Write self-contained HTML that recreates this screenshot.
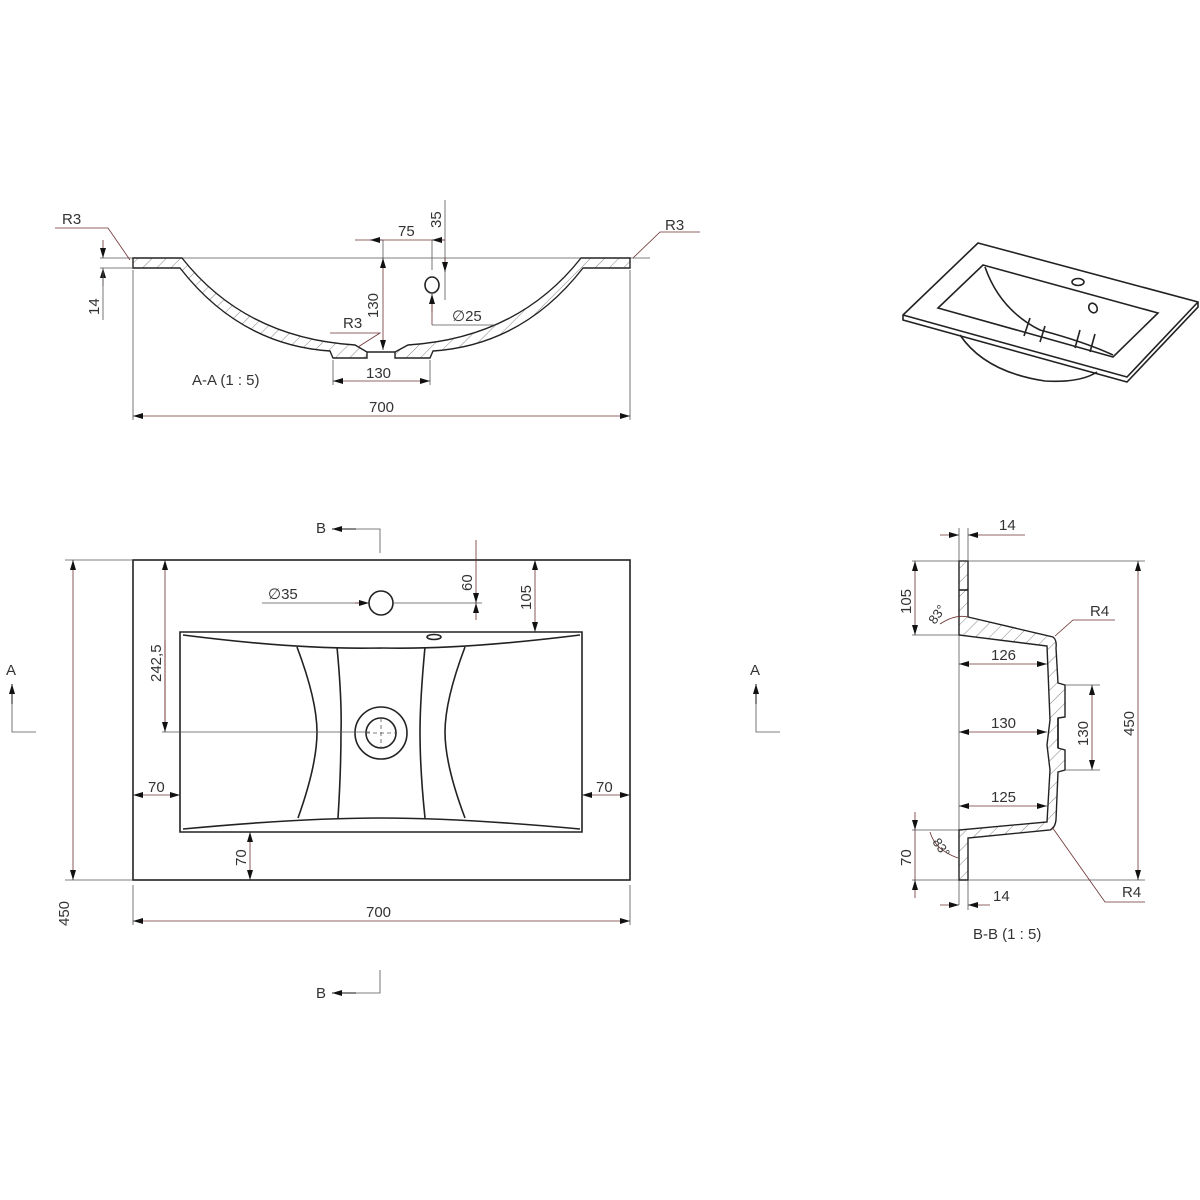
<!DOCTYPE html>
<html><head><meta charset="utf-8"><style>
html,body{margin:0;padding:0;background:#fff;width:1200px;height:1200px;overflow:hidden}
svg{display:block}
text{font-family:"Liberation Sans",sans-serif;font-size:15px;fill:#333}
.o{fill:none;stroke:#222;stroke-width:1.6}
.t{fill:none;stroke:#555;stroke-width:0.8}
.d{fill:none;stroke:#6b3030;stroke-width:0.8}
</style></head><body>
<svg width="1200" height="1200" viewBox="0 0 1200 1200" xmlns="http://www.w3.org/2000/svg">
<defs>
<marker id="a" viewBox="0 0 10 6" refX="10" refY="3" markerWidth="10" markerHeight="6" orient="auto-start-reverse" markerUnits="userSpaceOnUse"><path d="M0,0 L10,3 L0,6z" fill="#111"/></marker>
<pattern id="hp" width="10" height="10" patternUnits="userSpaceOnUse" patternTransform="rotate(45)"><line x1="0" y1="0" x2="0" y2="10" stroke="#666" stroke-width="0.8"/></pattern>
</defs>

<!-- ===== Section A-A ===== -->
<line class="t" x1="100" y1="258" x2="650" y2="258"/>
<path d="M133,258 L182,258 Q245,338 355,345 L367,352 L367,358 L333,358 L330,351 Q240,345 180,268 L133,268 Z" fill="url(#hp)" stroke="#222" stroke-width="1.4"/>
<path d="M630,258 L581,258 Q518,338 408,345 L395,352 L395,358 L430,358 L433,351 Q523,345 583,268 L630,268 Z" fill="url(#hp)" stroke="#222" stroke-width="1.4"/>
<line class="o" x1="367" y1="352" x2="395" y2="352" stroke-width="1.2"/>
<ellipse cx="432" cy="285" rx="7" ry="8" class="o"/>
<!-- dims A-A -->
<line class="t" x1="133" y1="270" x2="133" y2="420"/>
<line class="t" x1="630" y1="270" x2="630" y2="420"/>
<line class="d" x1="133" y1="416" x2="630" y2="416" marker-start="url(#a)" marker-end="url(#a)"/>
<text x="369" y="412">700</text>
<line class="t" x1="333" y1="360" x2="333" y2="385"/>
<line class="t" x1="430" y1="360" x2="430" y2="385"/>
<line class="d" x1="333" y1="381" x2="430" y2="381" marker-start="url(#a)" marker-end="url(#a)"/>
<text x="366" y="378">130</text>
<text x="192" y="385">A-A  (1 : 5)</text>
<line class="d" x1="383" y1="258" x2="383" y2="350" marker-start="url(#a)" marker-end="url(#a)"/>
<line class="t" x1="383" y1="240" x2="383" y2="258"/>
<text transform="translate(378,318) rotate(-90)">130</text>
<line class="d" x1="355" y1="240" x2="445" y2="240"/>
<line class="d" x1="383" y1="240" x2="370" y2="240" marker-end="url(#a)"/>
<line class="d" x1="432" y1="240" x2="445" y2="240" marker-start="url(#a)"/>
<text x="398" y="236">75</text>
<line class="t" x1="432" y1="240" x2="432" y2="270"/>
<line class="t" x1="445" y1="200" x2="445" y2="300"/>
<text transform="translate(441,228) rotate(-90)">35</text>
<line class="d" x1="445" y1="258" x2="445" y2="272" marker-end="url(#a)"/>
<line class="d" x1="432" y1="300" x2="432" y2="325"/>
<line class="d" x1="432" y1="312" x2="432" y2="294" marker-end="url(#a)"/>
<line class="t" x1="432" y1="325" x2="495" y2="325"/>
<text x="452" y="321">∅25</text>
<line class="d" x1="103" y1="240" x2="103" y2="258" marker-end="url(#a)"/>
<line class="d" x1="103" y1="286" x2="103" y2="268" marker-end="url(#a)"/>
<line class="t" x1="100" y1="268" x2="133" y2="268"/>
<line class="t" x1="103" y1="268" x2="103" y2="320"/>
<text transform="translate(99,315) rotate(-90)">14</text>
<path class="d" d="M55,228 L108,228 L130,260"/>
<text x="62" y="224">R3</text>
<path class="d" d="M700,232 L660,232 L633,258"/>
<text x="665" y="230">R3</text>
<path class="d" d="M330,333 L380,333 L358,347"/>
<text x="343" y="328">R3</text>

<!-- ===== Isometric ===== -->
<path class="o" d="M978,243 L1198,302 L1198,307 L1127,382 L903,320 L903,315 Z" fill="#fff" stroke-width="1.4"/>
<path class="o" d="M903,315 L1127,377 L1198,302" stroke-width="1.2"/>
<path class="o" d="M983,265 L1158,313 L1113,357 L938,308 Z" stroke-width="1.4"/>
<path class="o" d="M985,267 Q1000,310 1040,330 Q1085,342 1113,355" stroke-width="1.1"/>
<path class="o" d="M960,335 Q985,372 1045,381 Q1080,383 1097,372" stroke-width="1.3"/>
<path class="o" d="M1030,318 L1024,336 M1045,326 L1040,342 M1080,330 L1075,348 M1095,334 L1090,352" stroke-width="1"/>
<ellipse cx="1078" cy="282" rx="6" ry="3.5" class="o" stroke-width="1.2"/>
<ellipse cx="1093" cy="308" rx="4" ry="5" class="o" transform="rotate(-30 1093 308)" stroke-width="1.2"/>

<!-- ===== Plan view ===== -->
<rect x="133" y="560" width="497" height="320" class="o" stroke-width="1.8"/>
<path class="o" d="M180,632 L582,632 L582,832 L180,832 Z" stroke-width="1.6"/>
<path class="o" d="M183,635 Q300,650 381,648 Q460,650 580,635" stroke-width="1.2"/>
<path class="o" d="M183,829 Q300,818 381,818 Q460,818 580,829" stroke-width="1.2"/>
<path class="o" d="M297,647 Q317,700 317,732 Q317,765 298,818" stroke-width="1.2"/>
<path class="o" d="M337,647 Q342,700 341,732 Q341,770 338,818" stroke-width="1.2"/>
<path class="o" d="M425,647 Q420,700 420,732 Q420,770 425,818" stroke-width="1.2"/>
<path class="o" d="M465,647 Q445,700 445,732 Q445,765 465,818" stroke-width="1.2"/>
<ellipse cx="434" cy="637" rx="7" ry="2.5" class="o" stroke-width="1"/>
<circle cx="381" cy="603" r="12" class="o" stroke-width="1.4"/>
<circle cx="381" cy="733" r="26" class="o" stroke-width="2.2"/>
<circle cx="381" cy="733" r="15" class="o" stroke-width="1.3"/>
<path class="t" d="M381,718 L381,748 M366,733 L396,733" stroke-dasharray="4,3"/>
<!-- plan dims -->
<line class="t" x1="162" y1="732" x2="370" y2="732"/>
<line class="d" x1="165" y1="732" x2="165" y2="560" marker-end="url(#a)"/>
<line class="d" x1="165" y1="640" x2="165" y2="732" marker-end="url(#a)"/>
<text transform="translate(161,682) rotate(-90)">242,5</text>
<line class="t" x1="262" y1="603" x2="369" y2="603"/>
<line class="d" x1="355" y1="603" x2="369" y2="603" marker-end="url(#a)"/>
<text x="268" y="599">∅35</text>
<line class="t" x1="393" y1="603" x2="482" y2="603"/>
<line class="d" x1="476" y1="540" x2="476" y2="603" marker-end="url(#a)"/>
<line class="d" x1="476" y1="620" x2="476" y2="603" marker-end="url(#a)"/>
<text transform="translate(472,591) rotate(-90)">60</text>
<line class="d" x1="535" y1="560" x2="535" y2="632" marker-start="url(#a)" marker-end="url(#a)"/>
<text transform="translate(531,610) rotate(-90)">105</text>
<line class="d" x1="133" y1="795" x2="180" y2="795" marker-start="url(#a)" marker-end="url(#a)"/>
<text x="148" y="792">70</text>
<line class="d" x1="582" y1="795" x2="630" y2="795" marker-start="url(#a)" marker-end="url(#a)"/>
<text x="596" y="792">70</text>
<line class="d" x1="250" y1="832" x2="250" y2="880" marker-start="url(#a)" marker-end="url(#a)"/>
<text transform="translate(246,866) rotate(-90)">70</text>
<line class="t" x1="65" y1="560" x2="133" y2="560"/>
<line class="t" x1="65" y1="880" x2="133" y2="880"/>
<line class="d" x1="73" y1="560" x2="73" y2="880" marker-start="url(#a)" marker-end="url(#a)"/>
<text transform="translate(69,926) rotate(-90)">450</text>
<line class="t" x1="133" y1="885" x2="133" y2="925"/>
<line class="t" x1="630" y1="885" x2="630" y2="925"/>
<line class="d" x1="133" y1="921" x2="630" y2="921" marker-start="url(#a)" marker-end="url(#a)"/>
<text x="366" y="917">700</text>
<!-- section markers -->
<text x="316" y="533">B</text>
<path d="M332,529 L356,529" stroke="#111" stroke-width="1" marker-start="url(#a)"/>
<path class="t" d="M356,529 L380,529 L380,553"/>
<text x="316" y="998">B</text>
<path d="M332,993 L356,993" stroke="#111" stroke-width="1" marker-start="url(#a)"/>
<path class="t" d="M356,993 L380,993 L380,970"/>
<text x="6" y="675">A</text>
<path d="M12,684 L12,704" stroke="#111" stroke-width="1" marker-start="url(#a)"/>
<path class="t" d="M12,704 L12,732 L36,732"/>
<text x="750" y="675">A</text>
<path d="M756,684 L756,704" stroke="#111" stroke-width="1" marker-start="url(#a)"/>
<path class="t" d="M756,704 L756,732 L780,732"/>

<!-- ===== Section B-B ===== -->
<line class="t" x1="959" y1="528" x2="959" y2="905"/>
<path d="M959,561 L968,561 L968,617 L1053,637 Q1057,640 1056,648 L1058,683 L1065,685 L1065,717 L1058,718 L1058,748 L1065,750 L1065,770 L1058,772 L1056,820 Q1055,828 1050,830 L968,838 L968,880 L959,880 L959,830 L1047,822 L1050,770 L1047,745 L1050,720 L1047,646 L959,635 Z" fill="url(#hp)" stroke="#222" stroke-width="1.4"/>
<line class="o" x1="1058" y1="718" x2="1058" y2="748" stroke-width="1.2"/>
<line class="o" x1="959" y1="590" x2="968" y2="590" stroke-width="1"/>
<!-- dims B-B -->
<line class="t" x1="968" y1="528" x2="968" y2="561"/>
<line class="d" x1="940" y1="535" x2="959" y2="535" marker-end="url(#a)"/>
<line class="d" x1="990" y1="535" x2="968" y2="535" marker-end="url(#a)"/>
<line class="d" x1="990" y1="535" x2="1025" y2="535"/>
<text x="999" y="530">14</text>
<line class="t" x1="912" y1="561" x2="1145" y2="561"/>
<line class="t" x1="912" y1="635" x2="959" y2="635"/>
<line class="d" x1="915" y1="561" x2="915" y2="635" marker-start="url(#a)" marker-end="url(#a)"/>
<text transform="translate(911,614) rotate(-90)">105</text>
<path class="d" d="M940,624 Q955,614 968,617" />
<text transform="translate(935,625) rotate(-55)" style="font-size:13px">83°</text>
<line class="d" x1="959" y1="664" x2="1047" y2="664" marker-start="url(#a)" marker-end="url(#a)"/>
<text x="991" y="660">126</text>
<line class="d" x1="959" y1="732" x2="1047" y2="732" marker-start="url(#a)" marker-end="url(#a)"/>
<text x="991" y="728">130</text>
<line class="d" x1="959" y1="806" x2="1047" y2="806" marker-start="url(#a)" marker-end="url(#a)"/>
<text x="991" y="802">125</text>
<line class="t" x1="1065" y1="685" x2="1100" y2="685"/>
<line class="t" x1="1065" y1="770" x2="1100" y2="770"/>
<line class="d" x1="1092" y1="685" x2="1092" y2="770" marker-start="url(#a)" marker-end="url(#a)"/>
<text transform="translate(1088,746) rotate(-90)">130</text>
<line class="t" x1="968" y1="880" x2="1145" y2="880"/>
<line class="d" x1="1138" y1="561" x2="1138" y2="880" marker-start="url(#a)" marker-end="url(#a)"/>
<text transform="translate(1134,736) rotate(-90)">450</text>
<line class="t" x1="912" y1="830" x2="959" y2="830"/>
<line class="t" x1="912" y1="880" x2="959" y2="880"/>
<line class="d" x1="915" y1="812" x2="915" y2="830" marker-end="url(#a)"/>
<line class="d" x1="915" y1="898" x2="915" y2="880" marker-end="url(#a)"/>
<line class="d" x1="915" y1="830" x2="915" y2="880"/>
<text transform="translate(911,866) rotate(-90)">70</text>
<path class="d" d="M930,832 Q935,850 958,858"/>
<text transform="translate(932,842) rotate(55)" style="font-size:13px">83°</text>
<line class="t" x1="968" y1="880" x2="968" y2="910"/>
<line class="d" x1="940" y1="905" x2="959" y2="905" marker-end="url(#a)"/>
<line class="d" x1="990" y1="905" x2="968" y2="905" marker-end="url(#a)"/>
<text x="993" y="901">14</text>
<path class="d" d="M1055,636 L1073,620 L1115,620"/>
<text x="1090" y="616">R4</text>
<path class="d" d="M1052,827 L1105,902 L1145,902"/>
<text x="1122" y="897">R4</text>
<text x="973" y="939">B-B  (1 : 5)</text>
</svg>
</body></html>
